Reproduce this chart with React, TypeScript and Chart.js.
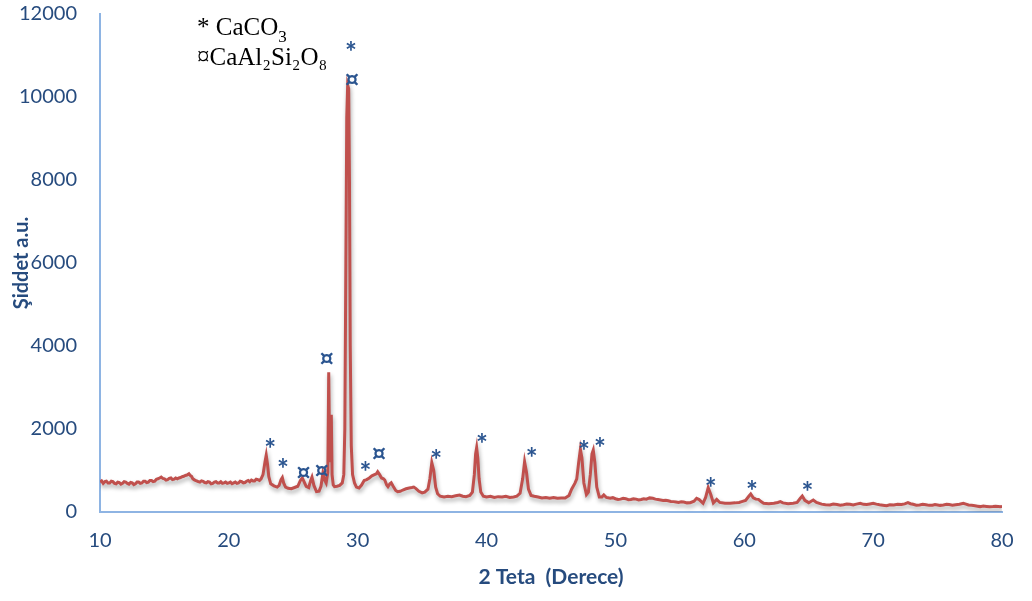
import React, { useEffect, useRef } from 'react';
import { Chart, registerables } from 'chart.js';

Chart.register(...registerables);

// 2θ (degree) , intensity (a.u.)
const xrdPattern: [number, number][] = [
  [10.0, 720], [10.125, 750], [10.25, 690], [10.375, 730], [10.5, 740], [10.625, 700], [10.75, 700], [10.875, 740],
  [11.0, 730], [11.125, 690], [11.25, 680], [11.375, 720], [11.5, 710], [11.625, 670], [11.75, 690], [11.875, 730],
  [12.0, 720], [12.125, 690], [12.25, 670], [12.375, 710], [12.5, 700], [12.625, 660], [12.75, 680], [12.875, 720],
  [13.0, 720], [13.125, 690], [13.25, 700], [13.375, 740], [13.5, 740], [13.625, 710], [13.75, 720], [13.875, 760],
  [14.0, 760], [14.125, 730], [14.25, 740], [14.375, 790], [14.5, 800], [14.625, 820], [14.75, 840], [14.875, 810],
  [15.0, 800], [15.125, 770], [15.25, 780], [15.375, 810], [15.5, 820], [15.625, 780], [15.75, 790], [15.875, 820],
  [16.0, 800], [16.125, 820], [16.25, 830], [16.375, 850], [16.5, 860], [16.625, 880], [16.75, 890], [16.9, 920],
  [17.0, 880], [17.1, 860], [17.2, 800], [17.3, 780], [17.4, 760], [17.5, 750], [17.625, 730], [17.75, 720],
  [17.875, 750], [18.0, 740], [18.125, 710], [18.25, 700], [18.375, 730], [18.5, 720], [18.625, 680], [18.75, 690],
  [18.875, 720], [19.0, 730], [19.125, 700], [19.25, 700], [19.375, 730], [19.5, 690], [19.625, 700], [19.75, 720],
  [19.875, 690], [20.0, 700], [20.125, 720], [20.25, 680], [20.375, 700], [20.5, 720], [20.625, 690], [20.75, 700],
  [20.875, 740], [21.0, 730], [21.125, 700], [21.25, 710], [21.375, 740], [21.5, 760], [21.625, 730], [21.75, 770],
  [21.875, 750], [22.0, 750], [22.125, 790], [22.25, 780], [22.375, 760], [22.5, 800],
  [22.65, 900], [22.8, 1200], [22.9, 1370], [23.0, 1150],
  [23.1, 850], [23.25, 680], [23.5, 630], [23.75, 600], [23.9, 640], [24.05, 780], [24.15, 830], [24.25, 700],
  [24.4, 600], [24.6, 570], [24.85, 560], [25.1, 590], [25.35, 620], [25.55, 760], [25.7, 820], [25.85, 720],
  [26.0, 620], [26.2, 590], [26.35, 760], [26.45, 840], [26.6, 640], [26.8, 490], [27.0, 500], [27.15, 620],
  [27.3, 940], [27.45, 760], [27.55, 700], [27.68, 950], [27.75, 3370], [27.82, 1500], [27.88, 1200],
  [27.95, 2340], [28.01, 900], [28.1, 650], [28.2, 610], [28.4, 620], [28.6, 640], [28.8, 700], [28.92, 900],
  [29.0, 2000], [29.08, 6000], [29.15, 9500], [29.22, 10290], [29.3, 10200], [29.36, 8000], [29.42, 4000],
  [29.5, 1600], [29.6, 900], [29.75, 700], [29.9, 600], [30.1, 580], [30.3, 650], [30.5, 760], [30.7, 780],
  [30.9, 820], [31.1, 870], [31.3, 900], [31.45, 920], [31.55, 970], [31.7, 900], [31.85, 820], [32.0, 800],
  [32.1, 770], [32.25, 650], [32.35, 610], [32.5, 680], [32.6, 705], [32.75, 620], [32.95, 520], [33.1, 490],
  [33.3, 500], [33.5, 530], [33.75, 560], [34.0, 580], [34.2, 590], [34.35, 600], [34.5, 570], [34.75, 500],
  [35.0, 460], [35.2, 480], [35.45, 550], [35.6, 800], [35.75, 1190], [35.9, 1000], [36.05, 600], [36.2, 440],
  [36.4, 380], [36.7, 360], [37.0, 380], [37.3, 370], [37.6, 390], [37.9, 410], [38.15, 380], [38.4, 370],
  [38.7, 400], [38.9, 480], [39.05, 900], [39.15, 1400], [39.23, 1550], [39.32, 1300], [39.42, 800], [39.55, 480],
  [39.75, 380], [40.0, 360], [40.3, 380], [40.6, 350], [40.9, 370], [41.2, 360], [41.5, 380], [41.8, 350],
  [42.1, 360], [42.35, 380], [42.6, 450], [42.8, 800], [42.95, 1210], [43.1, 950], [43.25, 550], [43.45, 400],
  [43.7, 380], [44.0, 360], [44.3, 340], [44.6, 350], [44.9, 330], [45.2, 350], [45.5, 330], [45.8, 340],
  [46.1, 340], [46.4, 400], [46.6, 550], [46.85, 690], [47.0, 800], [47.15, 1200], [47.28, 1510], [47.4, 1300],
  [47.55, 700], [47.75, 420], [47.9, 480], [48.05, 900], [48.18, 1400], [48.28, 1490], [48.4, 1200], [48.55, 600],
  [48.75, 360], [48.95, 360], [49.1, 410], [49.3, 350],
  [49.6, 330], [49.8, 345], [50.0, 320], [50.2, 300], [50.4, 310], [50.6, 330], [50.8, 320], [51.0, 295],
  [51.2, 300], [51.4, 320], [51.6, 310], [51.8, 290], [52.0, 300], [52.2, 320], [52.4, 310], [52.65, 340],
  [52.9, 330], [53.1, 310], [53.3, 300], [53.5, 290], [53.7, 280], [53.9, 285], [54.1, 270], [54.3, 255],
  [54.5, 250], [54.7, 240], [54.9, 230], [55.1, 245], [55.3, 240], [55.55, 220], [55.8, 225],
  [56.1, 260], [56.3, 330], [56.5, 300], [56.8, 210],
  [57.0, 350], [57.2, 585], [57.4, 420], [57.6, 220], [57.86, 305], [58.1, 230], [58.5, 210], [58.9, 210],
  [59.3, 220], [59.6, 230], [59.8, 250], [60.1, 280], [60.35, 380], [60.5, 434], [60.7, 340], [60.9, 310],
  [61.1, 305], [61.3, 250], [61.5, 210], [61.9, 200], [62.3, 210], [62.6, 230], [62.8, 250], [63.0, 220],
  [63.4, 200], [63.8, 210], [64.1, 230], [64.35, 330], [64.5, 385], [64.7, 280], [65.0, 225], [65.35, 290],
  [65.6, 230],
  [66.0, 190], [66.3, 175], [66.65, 170], [66.9, 190], [67.2, 180], [67.45, 165], [67.7, 175], [67.95, 190],
  [68.2, 185], [68.45, 170], [68.7, 190], [69.0, 210], [69.25, 185], [69.5, 180], [69.75, 195], [70.0, 210],
  [70.25, 190], [70.5, 175], [70.75, 165], [71.05, 150], [71.3, 175], [71.6, 170], [71.9, 185], [72.2, 180],
  [72.45, 195], [72.7, 225], [72.9, 200], [73.1, 185], [73.35, 165], [73.6, 170], [73.85, 185], [74.1, 175],
  [74.35, 160], [74.6, 165], [74.8, 180], [75.0, 170], [75.2, 160], [75.45, 170], [75.7, 185], [75.9, 180],
  [76.15, 165], [76.4, 175], [76.7, 185], [77.0, 210], [77.2, 190], [77.4, 170], [77.65, 160], [77.9, 150],
  [78.1, 140], [78.3, 130], [78.55, 145], [78.8, 135], [79.05, 125], [79.3, 130], [79.5, 140], [79.7, 135],
  [79.85, 125], [80.0, 130],
];

// phase marker positions (2θ, intensity) as placed on the picture
const caco3Marks: [number, number][] = [
  [29.48, 11230], [23.2, 1660], [24.2, 1180], [30.6, 1110], [36.1, 1400], [39.65, 1780],
  [43.5, 1450], [47.56, 1610], [48.8, 1690], [57.4, 720], [60.6, 650], [64.9, 630],
];
const anorthiteMarks: [number, number][] = [
  [29.55, 10410], [27.6, 3710], [25.8, 960], [27.2, 1010], [31.65, 1400],
];

const legendLine1 = '* CaCO';
const legendLine1Sub = '3';
const legendLine2 = '¤CaAl₂Si₂O₈';

const AXIS_TEXT = '#264B7E';
const AXIS_LINE = '#8EB4E3';
const LINE_RED = '#C0504D';
const MARK_BLUE = '#2B5590';
const SANS = 'Lato, "Open Sans", "DejaVu Sans", sans-serif';

const shadowPlugin = {
  id: 'lineShadow',
  beforeDatasetDraw(chart: any) {
    const ctx = chart.ctx;
    ctx.save();
    ctx.shadowColor = 'rgba(0,0,0,0.32)';
    ctx.shadowBlur = 4;
    ctx.shadowOffsetX = 1;
    ctx.shadowOffsetY = 3;
  },
  afterDatasetDraw(chart: any) {
    chart.ctx.restore();
  },
};

const marksPlugin = {
  id: 'phaseMarks',
  afterDatasetsDraw(chart: any) {
    const { ctx, scales } = chart;
    const drawCentered = (s: string, x: number, y: number, font: string) => {
      ctx.font = font;
      const m = ctx.measureText(s);
      ctx.fillText(s, x, y + (m.actualBoundingBoxAscent - m.actualBoundingBoxDescent) / 2);
    };
    ctx.save();
    ctx.fillStyle = MARK_BLUE;
    ctx.textAlign = 'center';
    ctx.textBaseline = 'alphabetic';
    caco3Marks.forEach(([x, y]) => {
      drawCentered('*', scales.x.getPixelForValue(x), scales.y.getPixelForValue(y), `bold 28px ${SANS}`);
    });
    anorthiteMarks.forEach(([x, y]) => {
      drawCentered('¤', scales.x.getPixelForValue(x), scales.y.getPixelForValue(y), `bold 22px "DejaVu Sans", sans-serif`);
    });
    // legend text block
    ctx.fillStyle = '#000';
    ctx.textAlign = 'left';
    const serif = '"Liberation Serif", "DejaVu Serif", serif';
    ctx.font = `25px ${serif}`;
    ctx.fillText(legendLine1, 197, 35);
    const w = ctx.measureText(legendLine1).width;
    ctx.font = `17px ${serif}`;
    ctx.fillText(legendLine1Sub, 197 + w, 42);
    ctx.font = `25px ${serif}`;
    ctx.fillText(legendLine2, 197, 65);
    ctx.restore();
  },
};

export default function App() {
  const canvasRef = useRef<HTMLCanvasElement | null>(null);

  useEffect(() => {
    if (!canvasRef.current) return;
    const chart = new Chart(canvasRef.current, {
      type: 'line',
      data: {
        datasets: [
          {
            data: xrdPattern.map(([x, y]) => ({ x, y })),
            borderColor: LINE_RED,
            borderWidth: 3,
            pointRadius: 0,
            tension: 0,
            fill: false,
          },
        ],
      },
      options: {
        animation: false,
        responsive: true,
        maintainAspectRatio: false,
        layout: { padding: { top: 14, right: 30, left: 0, bottom: 0 } },
        plugins: { legend: { display: false }, tooltip: { enabled: false } },
        scales: {
          x: {
            type: 'linear',
            min: 10,
            max: 80,
            ticks: {
              stepSize: 10,
              color: AXIS_TEXT,
              font: { family: SANS, size: 20 },
              padding: 17,
              maxRotation: 0,
              callback: (v: any) => String(v),
            },
            grid: { display: false, drawTicks: false },
            border: { display: true, color: AXIS_LINE, width: 2 },
            title: {
              display: true,
              text: '2 Teta  (Derece)',
              color: AXIS_TEXT,
              font: { family: SANS, size: 21, weight: 'bold' },
              padding: { top: 0, bottom: 11 },
            },
            afterFit: (s: any) => {
              s.height = 89;
              s.paddingLeft = 0;
              s.paddingRight = 0;
            },
          },
          y: {
            min: 0,
            max: 12000,
            ticks: {
              stepSize: 2000,
              color: AXIS_TEXT,
              font: { family: SANS, size: 20 },
              padding: 23,
              callback: (v: any) => String(v),
            },
            grid: { display: false, drawTicks: false },
            border: { display: true, color: AXIS_LINE, width: 2 },
            title: {
              display: true,
              text: 'Şiddet a.u.',
              color: AXIS_TEXT,
              font: { family: SANS, size: 20, weight: 'bold' },
              padding: { top: 10, bottom: 0 },
            },
            afterFit: (s: any) => {
              s.width = 100;
              s.paddingTop = 0;
              s.paddingBottom = 0;
            },
          },
        },
      } as any,
      plugins: [shadowPlugin, marksPlugin],
    });
    return () => chart.destroy();
  }, []);

  return (
    <div style={{ position: 'fixed', left: 0, top: 0, width: 1032, height: 601, background: '#fff' }}>
      <canvas ref={canvasRef} />
    </div>
  );
}
